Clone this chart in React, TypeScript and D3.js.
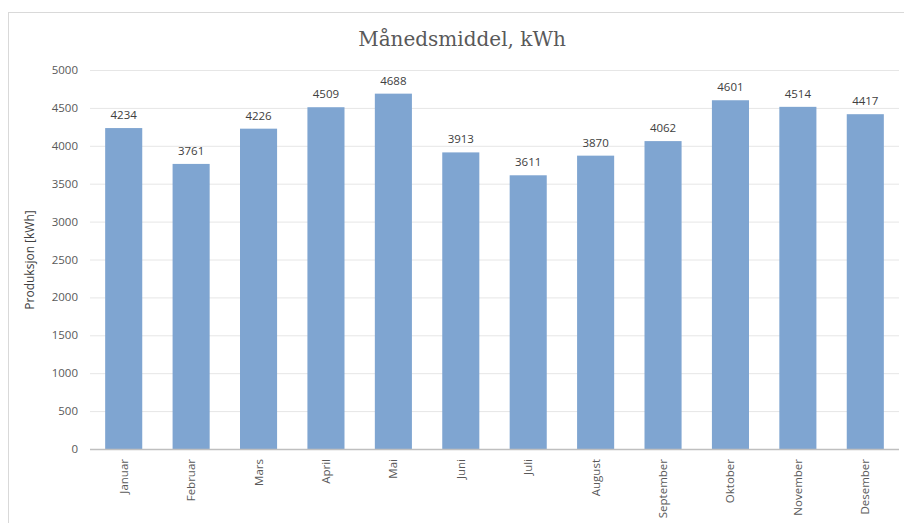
import React from 'react'
import * as d3 from 'd3'

const months = ['Januar', 'Februar', 'Mars', 'April', 'Mai', 'Juni', 'Juli', 'August', 'September', 'Oktober', 'November', 'Desember']
const production = [4234, 3761, 4226, 4509, 4688, 3913, 3611, 3870, 4062, 4601, 4514, 4417]
const yTicks = [0, 500, 1000, 1500, 2000, 2500, 3000, 3500, 4000, 4500, 5000]

const W = 904
const H = 523

export default function App() {
  const margin = { top: 70, right: 5, bottom: 74, left: 90 }
  const innerW = W - margin.left - margin.right
  const innerH = H - margin.top - margin.bottom

  const x = d3.scaleBand<string>().domain(months).range([0, innerW]).paddingInner(0.45).paddingOuter(0.225)
  const y = d3.scaleLinear().domain([0, 5000]).range([innerH, 0])

  return (
    <svg width={W} height={H} style={{ position: 'absolute', left: 0, top: 0, background: '#fff' }}>
      {/* chart frame */}
      <rect x={8.5} y={12.5} width={W} height={H} fill="#fff" stroke="#d9d9d9" />
      <text x={462} y={46} textAnchor="middle" fontFamily="'DejaVu Serif', serif" fontSize={20} fill="#595959">
        Månedsmiddel, kWh
      </text>
      <text transform="translate(34,260) rotate(-90)" textAnchor="middle" fontFamily="'Open Sans', sans-serif" fontSize={12} fill="#404040">
        Produksjon [kWh]
      </text>
      <g transform={`translate(${margin.left},${margin.top})`}>
        {yTicks.map(t => (
          <g key={t}>
            {t > 0 && <line x1={0} x2={innerW} y1={y(t) + 0.5} y2={y(t) + 0.5} stroke="#e6e6e6" />}
            <text x={-12} y={y(t)} dy="0.35em" textAnchor="end" fontFamily="'Open Sans', sans-serif" fontSize={11.5} fill="#595959">
              {t}
            </text>
          </g>
        ))}
        {months.map((m, i) => (
          <g key={m}>
            <rect x={x(m)} y={y(production[i])} width={x.bandwidth()} height={innerH - y(production[i])} fill="#7fa5d1" />
            <text x={(x(m) as number) + x.bandwidth() / 2} y={y(production[i]) - 9} textAnchor="middle" fontFamily="'Open Sans', sans-serif" fontSize={11.5} fill="#404040">
              {production[i]}
            </text>
            <text
              transform={`translate(${(x(m) as number) + x.bandwidth() / 2},${innerH + 10}) rotate(-90)`}
              dy="0.35em"
              textAnchor="end"
              fontFamily="'Open Sans', sans-serif"
              fontSize={11.5}
              fill="#595959"
            >
              {m}
            </text>
          </g>
        ))}
        <line x1={0} x2={innerW} y1={innerH + 0.5} y2={innerH + 0.5} stroke="#bfbfbf" strokeWidth={1.5} />
      </g>
    </svg>
  )
}
